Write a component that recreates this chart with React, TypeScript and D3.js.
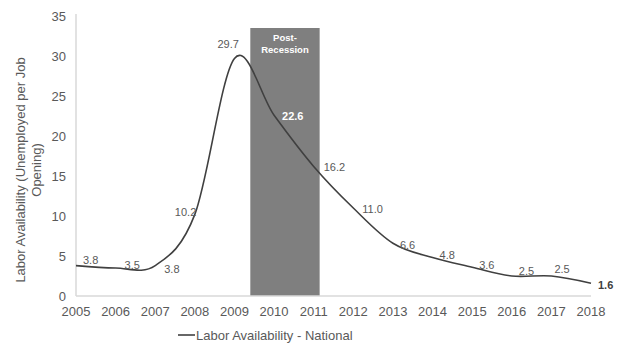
import React from 'react';
import * as d3 from 'd3';

const years = [2005, 2006, 2007, 2008, 2009, 2010, 2011, 2012, 2013, 2014, 2015, 2016, 2017, 2018];
const values = [3.8, 3.5, 3.8, 10.2, 29.7, 22.6, 16.2, 11.0, 6.6, 4.8, 3.6, 2.5, 2.5, 1.6];
const yTicks = [0, 5, 10, 15, 20, 25, 30, 35];
const band = { start: 2009.4, end: 2011.15, top: 33.5, label: ['Post-', 'Recession'] };

// where each data label sits relative to its point
const labelOffsets: [number, number][] = [
  [7, -5], [9, -3], [9, 4], [-20, -2], [-17, -14], [8, 1], [10, 1], [9, 1],
  [7, 2], [7, -2], [7, -2], [7, -5], [3, -7], [7, 2],
];

const W = 618;
const H = 344;
const margin = { top: 16, right: 27, bottom: 48, left: 76 };
const textColor = '#595959';
const font = '"Liberation Sans", Arial, sans-serif';

export default function App() {
  const x = d3
    .scaleLinear()
    .domain([2005, 2018])
    .range([margin.left, W - margin.right]);
  const y = d3
    .scaleLinear()
    .domain([0, 35])
    .range([H - margin.bottom, margin.top]);

  const pts = years.map((yr, i) => [yr, values[i]] as [number, number]);
  const line = d3
    .line<[number, number]>()
    .x((d) => x(d[0]))
    .y((d) => y(d[1]))
    .curve(d3.curveCatmullRom.alpha(0));

  const y0 = y(0);
  const plotMid = 170;

  return (
    <svg width={W} height={H} style={{ position: 'absolute', left: 0, top: 0, fontFamily: font }}>
      <rect width={W} height={H} fill="#ffffff" />

      {/* post-recession band */}
      <rect
        x={x(band.start)}
        y={y(band.top)}
        width={x(band.end) - x(band.start)}
        height={y0 - y(band.top)}
        fill="#7f7f7f"
      />
      {band.label.map((t, i) => (
        <text
          key={t}
          x={(x(band.start) + x(band.end)) / 2}
          y={y(band.top) + 13 + i * 12}
          textAnchor="middle"
          fontSize={9.5}
          fontWeight="bold"
          fill="#ffffff"
        >
          {t}
        </text>
      ))}

      {/* axes */}
      <line x1={margin.left} x2={margin.left} y1={margin.top - 2} y2={y0} stroke="#d9d9d9" strokeWidth={1.5} />
      <line x1={margin.left} x2={x(2018)} y1={y0} y2={y0} stroke="#d9d9d9" strokeWidth={1.5} />

      {yTicks.map((t) => (
        <text key={t} x={margin.left - 10} y={y(t)} dy="0.35em" textAnchor="end" fontSize={13} fill={textColor}>
          {t}
        </text>
      ))}
      {years.map((yr) => (
        <text key={yr} x={x(yr)} y={y0 + 20} textAnchor="middle" fontSize={13} fill={textColor}>
          {yr}
        </text>
      ))}

      <g transform={`translate(20, ${plotMid}) rotate(-90)`}>
        <text textAnchor="middle" fontSize={13} fill={textColor} dy="0.35em">
          Labor Availability (Unemployed per Job
        </text>
        <text textAnchor="middle" fontSize={13} fill={textColor} y={16} dy="0.35em">
          Opening)
        </text>
      </g>

      {/* series */}
      <path d={line(pts) ?? ''} fill="none" stroke="#404040" strokeWidth={1.6} />

      {pts.map((d, i) => {
        const [dx, dy] = labelOffsets[i];
        const inBand = i === 5;
        const last = i === pts.length - 1;
        return (
          <text
            key={d[0]}
            x={x(d[0]) + dx}
            y={y(d[1]) + dy}
            dy="0.35em"
            fontSize={11}
            fontWeight={inBand || last ? 'bold' : 'normal'}
            fill={inBand ? '#ffffff' : last ? '#404040' : textColor}
          >
            {d[1].toFixed(1)}
          </text>
        );
      })}

      {/* legend */}
      <line x1={178} x2={195} y1={335} y2={335} stroke="#404040" strokeWidth={1.6} />
      <text x={196} y={335} dy="0.35em" fontSize={13} fill={textColor}>
        Labor Availability - National
      </text>
    </svg>
  );
}
